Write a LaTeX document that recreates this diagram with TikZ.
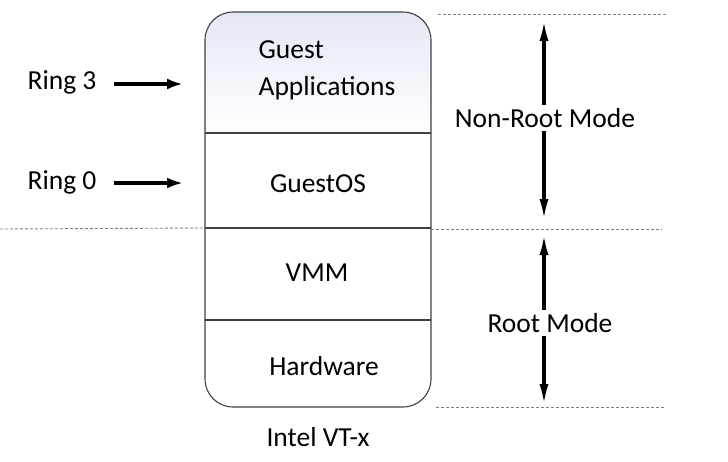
\documentclass[tikz,border=0pt]{standalone}
\usepackage{fontspec}
\setmainfont{Carlito}
\usepackage{tikz}
\usetikzlibrary{calc,arrows.meta}

\definecolor{boxline}{RGB}{64,64,64}
\definecolor{guesttop}{RGB}{228,232,246}
\tikzset{
  label text/.style={font=\fontsize{27.5}{37}\selectfont, inner sep=3pt},
  ring arrow/.style={line width=3.5pt, -{Latex[length=16pt,width=11pt]}},
  mode arrow/.style={line width=3.5pt, -{Latex[length=22pt,width=9pt]}},
  mode line/.style={gray, line width=0.9pt, dash pattern=on 3pt off 2pt},
  layer line/.style={boxline, line width=1.1pt}
}

\begin{document}
\begin{tikzpicture}[x=1pt,y=-1pt]
    \useasboundingbox (0,0) rectangle (728,461);

    % layer stack
    \begin{scope}
    \clip[rounded corners=28pt] (205,12) rectangle (431,407);
    \shade[top color=guesttop, bottom color=white] (205,12) rectangle (431,133);
    \end{scope}
    \draw[layer line, rounded corners=28pt] (205,12) rectangle (431,407);

    \coordinate (div1w) at (205,133); \coordinate (div1e) at (431,133);
    \coordinate (div2w) at (205,228); \coordinate (div2e) at (431,228);
    \coordinate (div3w) at (205,320); \coordinate (div3e) at (431,320);
    \draw[layer line] (div1w) -- (div1e);
    \draw[layer line] (div2w) -- (div2e);
    \draw[layer line] (div3w) -- (div3e);

    \node[label text, align=left] (guest_app) at (327,70) {Guest\\Applications};
    \node[label text] (guest_os) at (318,184) {GuestOS};
    \node[label text] (vmm) at (317,273) {VMM};
    \node[label text] (hardware) at (324,366) {Hardware};
    \node[label text] (vtx) at (318,437) {Intel VT-x};

    % rings
    \node[label text] (ring3) at (62,82) {Ring 3};
    \node[label text] (ring0) at (62,182) {Ring 0};
    \coordinate (ring3_tip) at (183,84);
    \coordinate (ring0_tip) at (183,183);
    \draw[ring arrow] ($(ring3.east |- ring3_tip) + (14pt,0)$) -- (ring3_tip);
    \draw[ring arrow] ($(ring0.east |- ring0_tip) + (14pt,0)$) -- (ring0_tip);

    % mode borders
    \coordinate (top_w) at (438,14);   \coordinate (top_e) at (668,14);
    \coordinate (mid_w) at (0,229);    \coordinate (mid_e) at (662,229);
    \coordinate (bot_w) at (436,407);  \coordinate (bot_e) at (664,407);
    \draw[mode line] (top_w) -- (top_e);
    \draw[mode line] (mid_w) -- (div2w);
    \draw[mode line] (div2e |- mid_w) -- (mid_e);
    \draw[mode line] (bot_w) -- (bot_e);

    % modes
    \node[label text] (nonroot) at (545,118) {Non-Root Mode};
    \node[label text] (root) at (550,323) {Root Mode};
    \coordinate (nonroot_up) at (544,19);
    \coordinate (nonroot_dn) at (544,221);
    \coordinate (root_up) at (544,233);
    \coordinate (root_dn) at (544,406);
    \draw[mode arrow] (nonroot.north -| nonroot_up) -- (nonroot_up);
    \draw[mode arrow] (nonroot.south -| nonroot_dn) -- (nonroot_dn);
    \draw[mode arrow] (root.north -| root_up) -- (root_up);
    \draw[mode arrow] (root.south -| root_dn) -- (root_dn);
\end{tikzpicture}
\end{document}
